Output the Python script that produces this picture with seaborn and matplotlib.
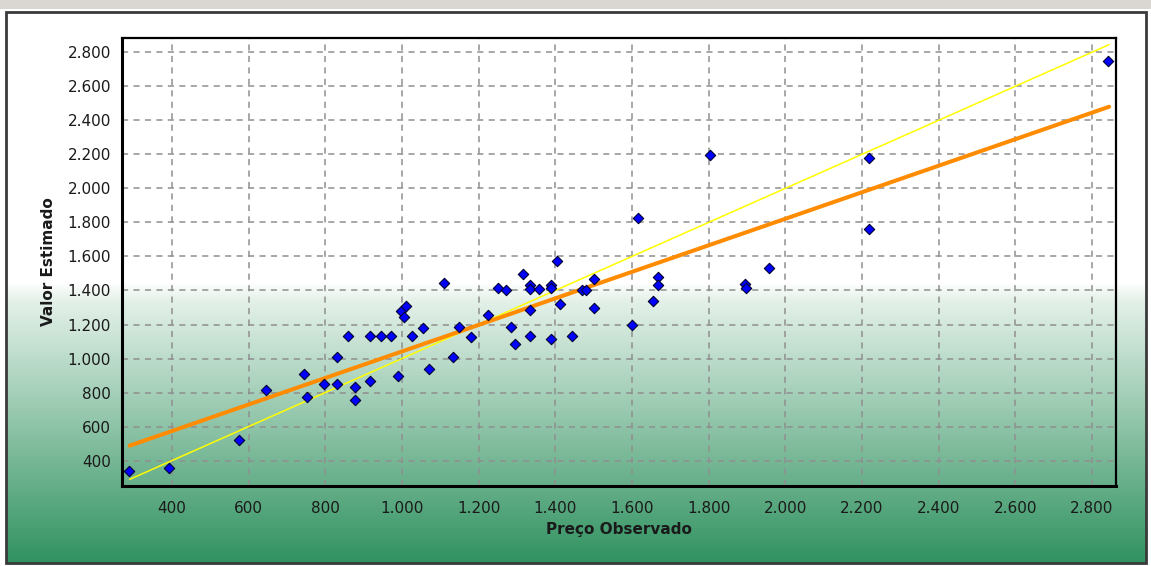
import numpy as np
import pandas as pd
import seaborn as sns
import matplotlib
import matplotlib.pyplot as plt
from matplotlib.patches import Rectangle
from matplotlib.ticker import MultipleLocator, FuncFormatter

matplotlib.use('Agg')

preco_observado = [288, 392, 575, 645, 746, 753, 798, 831, 831, 860,
                   878, 878, 916, 916, 946, 973, 990, 998, 1010, 1006,
                   1027, 1055, 1070, 1110, 1134, 1148, 1181, 1225, 1251, 1272,
                   1284, 1296, 1317, 1334, 1334, 1335, 1334, 1359, 1388, 1388,
                   1388, 1404, 1413, 1443, 1471, 1480, 1500, 1500, 1600, 1616,
                   1656, 1667, 1667, 1804, 1895, 1899, 1957, 2219, 2219, 2843]
valor_estimado = [338, 355, 524, 814, 910, 776, 853, 853, 1011, 1133,
                  831, 759, 870, 1133, 1134, 1134, 898, 1282, 1309, 1243,
                  1134, 1180, 937, 1443, 1012, 1188, 1124, 1255, 1413, 1403,
                  1188, 1085, 1497, 1433, 1411, 1284, 1133, 1411, 1434, 1413,
                  1114, 1571, 1319, 1133, 1402, 1402, 1470, 1300, 1197, 1825,
                  1340, 1480, 1431, 2198, 1437, 1413, 1534, 2179, 1760, 2749]

# fitted line and the ideal (y = x) line, endpoints
reta_x = [290, 2845]
reta_y = [488, 2480]
ideal_x = [290, 2845]
ideal_y = [290, 2845]

x_ticks = list(range(400, 2801, 200))
y_ticks = list(range(400, 2801, 200))

df = pd.DataFrame({'obs': preco_observado, 'est': valor_estimado})
df_reta = pd.DataFrame({'x': reta_x, 'y': reta_y})
df_ideal = pd.DataFrame({'x': ideal_x, 'y': ideal_y})

sns.set_style("white")
plt.rcParams['font.family'] = ['DejaVu Sans']

W, H = 1151, 566
fig = plt.figure(figsize=(W / 100, H / 100), dpi=100)
fig.patch.set_facecolor('white')


def fx(px):
    return px / W


def fy(py):
    return 1 - py / H


# light gray strip at the very top
fig.patches.append(Rectangle((0, fy(9)), 1, 9 / H, transform=fig.transFigure,
                             facecolor='#dad7d2', edgecolor='none', zorder=0))

# panel with white -> green gradient
top, bottom = 12, 563
bg = fig.add_axes([fx(6), fy(bottom), fx(1146) - fx(6), fy(top) - fy(bottom)])
rows = np.arange(top, bottom)
stops_y = [top, 282, 300, bottom]
r = np.interp(rows, stops_y, [255, 255, 228, 48])
g = np.interp(rows, stops_y, [255, 255, 241, 146])
b = np.interp(rows, stops_y, [255, 255, 233, 96])
grad = np.stack([r, g, b], axis=1)[:, None, :] / 255.0
bg.imshow(grad, aspect='auto', extent=[0, 1, 0, 1])
bg.set_axis_off()
bg.add_patch(Rectangle((0, 0), 1, 1, transform=bg.transAxes, fill=False,
                       edgecolor='#3a3a3a', linewidth=2, clip_on=False))

# main chart
ax = fig.add_axes([fx(122), fy(486), fx(1116) - fx(122), fy(38) - fy(486)])
ax.patch.set_alpha(0)

sns.lineplot(data=df_ideal, x='x', y='y', color='#ffff00', linewidth=1.1, ax=ax)
sns.lineplot(data=df_reta, x='x', y='y', color='#ff8c00', linewidth=2.9, ax=ax)
sns.scatterplot(data=df, x='obs', y='est', marker='D', color='#0000ff',
                edgecolor='#000033', linewidth=0.8, s=28, ax=ax, zorder=5)

ax.set_xlim(270, 2863)
ax.set_ylim(251, 2884)
ax.set_xticks(x_ticks)
ax.set_yticks(y_ticks)
ax.xaxis.set_minor_locator(MultipleLocator(50))
ax.yaxis.set_minor_locator(MultipleLocator(50))
fmt = FuncFormatter(lambda v, p: f"{v:,.0f}".replace(',', '.'))
ax.xaxis.set_major_formatter(fmt)
ax.yaxis.set_major_formatter(fmt)

ax.grid(True, which='major', color='#8f8f8f', linestyle=(0, (4, 3.5)), linewidth=1.1)
ax.set_axisbelow(True)
for name, s in ax.spines.items():
    s.set_color('black')
    s.set_linewidth(2.2 if name in ('left', 'bottom') else 1.6)

ax.tick_params(which='major', direction='out', length=5, width=1, color='#555555',
               labelsize=11, labelcolor='#1a1a1a')
ax.tick_params(axis='x', which='major', pad=6)
ax.tick_params(axis='y', which='major', pad=3)
ax.tick_params(which='minor', direction='out', length=2, width=1, color='#777777')

ax.set_xlabel('Preço Observado', fontsize=11, fontweight='bold', color='#1a1a1a', labelpad=4)
ax.set_ylabel('Valor Estimado', fontsize=11, fontweight='bold', color='#1a1a1a', labelpad=8)

plt.savefig('out.png', dpi=100)
